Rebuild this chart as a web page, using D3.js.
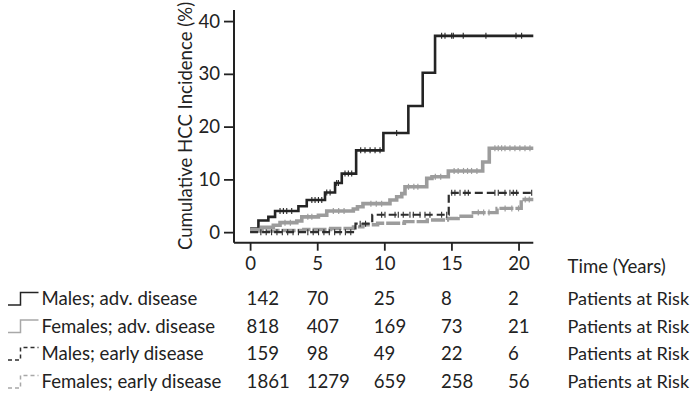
<!DOCTYPE html>
<html>
<head>
<meta charset="utf-8">
<script src="https://cdn.jsdelivr.net/npm/d3@7"></script>
<style>
  html, body { margin: 0; padding: 0; background: #fff; }
  svg text { font-family: Lato, "Open Sans", sans-serif; fill: #222; }
</style>
</head>
<body>
<svg id="chart" width="691" height="405"></svg>
<script>
// Follow-up time (years) shown as axis ticks and at-risk columns
const yearTicks = [0, 5, 10, 15, 20];
const incidenceTicks = [0, 10, 20, 30, 40];

const groupNames = ["Males; adv. disease", "Females; adv. disease", "Males; early disease", "Females; early disease"];

// Patients at risk per group at each tick year
const atRiskMalesAdv = [142, 70, 25, 8, 2];
const atRiskFemalesAdv = [818, 407, 169, 73, 21];
const atRiskMalesEarly = [159, 98, 49, 22, 6];
const atRiskFemalesEarly = [1861, 1279, 659, 258, 56];

// Cumulative HCC incidence (%) step curves: time of each step and level after it
const malesAdvTimes = [0, 0.62, 1.36, 1.86, 3.6, 4.22, 5.58, 6.33, 6.83, 7.9, 9.93, 11.79, 12.86, 13.78, 21.1];
const malesAdvValues = [0.7, 2.2, 2.9, 4.0, 4.9, 6.1, 7.5, 9.3, 11.1, 15.5, 18.8, 23.9, 30.2, 37.2, 37.2];

const femalesAdvTimes = [0, 0.87, 1.73, 2.23, 3.48, 3.85, 5.09, 5.71, 7.69, 8.0, 8.41, 10.42, 10.92, 11.3, 11.54, 13.16, 13.55, 14.77, 17.33, 17.82, 21.1];
const femalesAdvValues = [0.5, 0.9, 1.3, 1.8, 2.1, 2.9, 3.2, 4.0, 4.4, 4.8, 5.4, 6.1, 6.7, 7.3, 8.6, 10.2, 10.5, 11.6, 13.3, 15.9, 15.9];

const malesEarlyTimes = [0, 7.85, 9.1, 14.8, 21.1];
const malesEarlyValues = [0, 1.6, 3.3, 7.45, 7.45];

const femalesEarlyTimes = [0, 2.0, 4.0, 6.0, 7.7, 8.4, 9.5, 11.5, 13.2, 14.7, 15.5, 16.5, 18.4, 20.2, 21.1];
const femalesEarlyValues = [0.2, 0.3, 0.5, 0.7, 1.0, 1.4, 1.7, 2.0, 2.3, 2.6, 3.0, 3.7, 4.5, 6.2, 6.2];

// Censoring times (years)
const malesAdvCensor = [2.23, 2.48, 2.73, 3.1, 4.6, 4.84, 5.09, 5.34, 5.71, 5.96, 6.45, 6.58, 7.07, 7.32, 7.57,
  8.24, 8.56, 8.94, 9.31, 9.68, 10.92, 14.27, 14.52, 15.02, 15.14, 15.88, 17.57, 19.81, 20.23];
const femalesAdvCensor = [2.6, 3.0, 4.3, 4.6, 6.2, 6.6, 7.0, 9.0, 9.4, 9.8, 11.8, 12.2, 12.5, 13.8, 14.2,
  15.2, 15.5, 15.9, 16.2, 16.5, 16.9, 18.24, 18.49, 18.74, 18.99, 19.36, 19.73, 20.1, 20.48, 20.85];
const malesEarlyCensor = [0.8, 1.2, 1.6, 2.0, 2.4, 2.8, 3.2, 3.6, 4.3, 4.7, 5.1, 5.5, 5.9, 6.3, 6.7, 7.1, 7.5,
  8.2, 8.6, 9.8, 10.05, 10.8, 11.04, 11.41, 11.91, 12.16, 12.66, 13.03, 13.4, 14.27, 14.65,
  15.02, 15.26, 15.64, 16.01, 16.26, 18.24, 18.49, 18.99, 19.36, 19.61, 19.86, 20.98];
const femalesEarlyCensor = [17.0, 17.4, 17.8, 19.0, 19.5, 20.0, 20.5, 20.8];

const svg = d3.select("#chart");

const x = d3.scaleLinear().domain([-1.2, 21.1]).range([234, 533.3]);
const y = d3.scaleLinear().domain([-2, 42.1]).range([242.7, 10]);

const black = "#242424";
const gray = "#9c9c9c";
const fontSize = 18.6;

const series = [
  { times: malesAdvTimes, values: malesAdvValues, censor: malesAdvCensor, color: black, width: 2.6, dash: null, tick: 1.1 },
  { times: femalesAdvTimes, values: femalesAdvValues, censor: femalesAdvCensor, color: gray, width: 3.6, dash: null, tick: 1.2 },
  { times: femalesEarlyTimes, values: femalesEarlyValues, censor: femalesEarlyCensor, color: gray, width: 3.4, dash: "14,2", tick: 1.2 },
  { times: malesEarlyTimes, values: malesEarlyValues, censor: malesEarlyCensor, color: "#2e2e2e", width: 2.2, dash: "8,4", tick: 1.1 }
];

// Axes
const yAxis = d3.axisLeft(y).tickValues(incidenceTicks).tickSize(10).tickPadding(4);
const xAxis = d3.axisBottom(x).tickValues(yearTicks).tickSize(8).tickPadding(6);

const gy = svg.append("g").attr("transform", "translate(234,0)").call(yAxis);
const gx = svg.append("g").attr("transform", "translate(0,242.7)").call(xAxis);

[gx, gy].forEach(g => {
  g.select(".domain").attr("stroke", "#222").attr("stroke-width", 2);
  g.selectAll(".tick line").attr("stroke", "#222").attr("stroke-width", 1.8);
  g.selectAll(".tick text").attr("font-size", fontSize).attr("fill", "#222")
    .style("font-family", "Lato, 'Open Sans', sans-serif");
});
gx.select(".domain").attr("d", `M${x.range()[0]},0H${x.range()[1]}`);
gy.select(".domain").attr("d", `M0,${y.range()[0]}V${y.range()[1]}`);

svg.append("text")
  .attr("transform", "translate(191.5,126) rotate(-90)")
  .attr("text-anchor", "middle")
  .attr("font-size", 18.6)
  .text("Cumulative HCC Incidence (%)");

// Curves
const line = d3.line().x(d => x(d[0])).y(d => y(d[1])).curve(d3.curveStepAfter);

function levelAt(s, t) {
  const i = d3.bisectRight(s.times, t) - 1;
  return s.values[Math.max(0, i)];
}

series.forEach(s => {
  const pts = s.times.map((t, i) => [t, s.values[i]]);
  svg.append("path")
    .attr("d", line(pts))
    .attr("fill", "none")
    .attr("stroke", s.color)
    .attr("stroke-width", s.width)
    .attr("stroke-dasharray", s.dash);
  svg.append("g").selectAll("line")
    .data(s.censor)
    .join("line")
    .attr("x1", t => x(t)).attr("x2", t => x(t))
    .attr("y1", t => y(levelAt(s, t)) - 3).attr("y2", t => y(levelAt(s, t)) + 3)
    .attr("stroke", s.color)
    .attr("stroke-width", s.tick);
});

// At-risk table
const headerY = 272.5;
const rowYs = [305, 332.5, 360, 388];
const colX = t => x(t) - (t === 0 ? 3.5 : 10.5);

svg.append("text").attr("x", 567.5).attr("y", headerY).attr("font-size", fontSize).text("Time (Years)");

const legendRows = [
  { name: groupNames[0], color: black, dash: null, risk: atRiskMalesAdv },
  { name: groupNames[1], color: "#a8a8a8", dash: null, risk: atRiskFemalesAdv },
  { name: groupNames[2], color: "#2e2e2e", dash: "4,3", risk: atRiskMalesEarly },
  { name: groupNames[3], color: "#a8a8a8", dash: "4,3", risk: atRiskFemalesEarly }
];

legendRows.forEach((r, i) => {
  const by = rowYs[i];
  svg.append("path")
    .attr("d", `M8,${by}H20.5V${by - 12.5}H38.5`)
    .attr("fill", "none")
    .attr("stroke", r.color)
    .attr("stroke-width", 1.5)
    .attr("stroke-dasharray", r.dash);
  svg.append("text").attr("x", 41.5).attr("y", by).attr("font-size", fontSize).text(r.name);
  yearTicks.forEach((t, j) => {
    svg.append("text").attr("x", colX(t)).attr("y", by).attr("font-size", fontSize).text(r.risk[j]);
  });
  svg.append("text").attr("x", 567.5).attr("y", by).attr("font-size", 18.1).text("Patients at Risk");
});
</script>
</body>
</html>
